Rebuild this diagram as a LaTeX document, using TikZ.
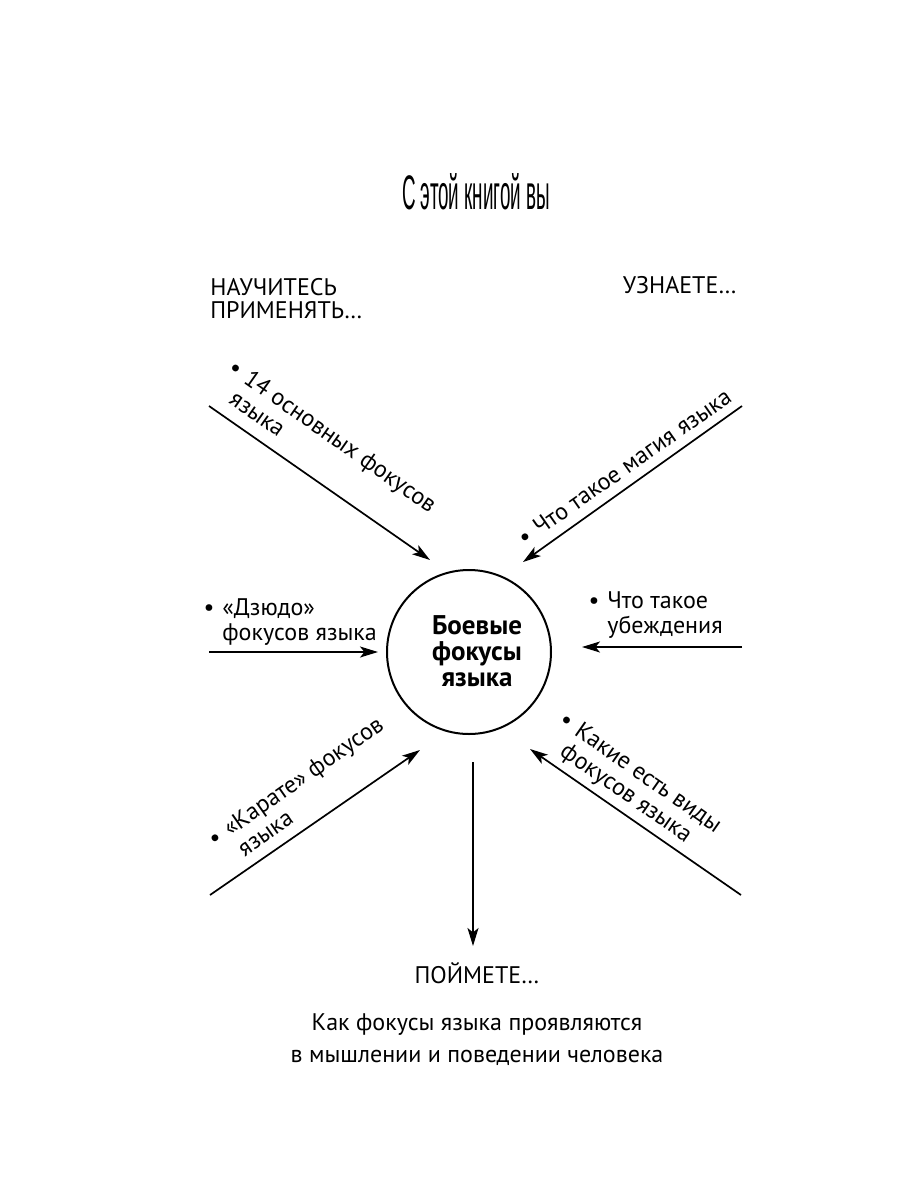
\documentclass[tikz,border=0pt]{standalone}
\usepackage{fontspec}
\setmainfont{PT Sans}
\newfontfamily\titlefont{Liberation Sans}
\usetikzlibrary{arrows.meta}
\begin{document}
\begin{tikzpicture}[x=0.5pt,y=-0.5pt,
  arr/.style={line width=0.85pt,-{Stealth[length=9pt,width=5.5pt,inset=2.2pt]}},
  lbl/.style={font=\fontsize{12}{12.5}\selectfont, inner sep=0pt, anchor=base west},
  ctr/.style={font=\fontsize{12}{12.5}\selectfont, inner sep=0pt, anchor=base},
  core/.style={ctr, font=\fontsize{13.5}{14}\selectfont\bfseries},
]
\useasboundingbox (0,0) rectangle (900,1200);
\newcommand{\bl}{\llap{\textbullet\hspace{4pt}}}

% title
\node[inner sep=0pt, anchor=base] (title) at (476,209) {\resizebox{74pt}{18pt}{\titlefont С этой книгой вы}};

% headers
\node[lbl] (learn1) at (210,295) {НАУЧИТЕСЬ};
\node[lbl] (learn2) at (210,318) {ПРИМЕНЯТЬ…};
\node[lbl, anchor=base east] (know) at (737,293) {УЗНАЕТЕ…};

% centre
\node[draw, circle, line width=1pt, minimum size=82pt, inner sep=0pt] (c) at (469,652) {};
\node[core] (c1) at (477,634) {Боевые};
\node[core] (c2) at (477,660) {фокусы};
\node[core] (c3) at (477,686) {языка};

% left / right
\node[lbl] (judo1) at (222,615) {\bl«Дзюдо»};
\node[lbl] (judo2) at (222,640) {фокусов языка};
\node[lbl] (bel1) at (607,608) {\bl Что такое};
\node[lbl] (bel2) at (607,633) {убеждения};

% rotated labels
\begin{scope}[shift={(242,382)}, rotate=-35, transform shape]
  \node[lbl] (tl1) at (0,0) {\bl 14 основных фокусов};
  \node[lbl] (tl2) at (0,25) {языка};
\end{scope}
\begin{scope}[shift={(540,536)}, rotate=35, transform shape]
  \node[lbl] (tr1) at (0,0) {\bl Что такое магия языка};
\end{scope}
\begin{scope}[shift={(230,837)}, rotate=35, transform shape]
  \node[lbl] (bl1) at (0,0) {\bl«Карате» фокусов};
  \node[lbl] (bl2) at (0,25) {языка};
\end{scope}
\begin{scope}[shift={(573,734)}, rotate=-35, transform shape]
  \node[lbl] (br1) at (0,0) {\bl Какие есть виды};
  \node[lbl] (br2) at (0,25) {фокусов языка};
\end{scope}

% bottom
\node[ctr] (under) at (477,983) {ПОЙМЕТЕ…};
\node[ctr] (res1) at (477,1030) {Как фокусы языка проявляются};
\node[ctr] (res2) at (477,1062) {в мышлении и поведении человека};

% arrow ends
\coordinate (a1s) at (209,406); \coordinate (a1e) at (430,560);
\coordinate (a2s) at (742,406); \coordinate (a2e) at (523,562);
\coordinate (a3s) at (209,652); \coordinate (a3e) at (378,652);
\coordinate (a4s) at (742,647); \coordinate (a4e) at (582,647);
\coordinate (a5s) at (210,895); \coordinate (a5e) at (420,750);
\coordinate (a6s) at (741,895); \coordinate (a6e) at (530,749);
\coordinate (a7s) at (473,762); \coordinate (a7e) at (473,946);

\draw[arr] (a1s) -- (a1e);
\draw[arr] (a2s) -- (a2e);
\draw[arr] (a3s) -- (a3e);
\draw[arr] (a4s) -- (a4e);
\draw[arr] (a5s) -- (a5e);
\draw[arr] (a6s) -- (a6e);
\draw[arr] (a7s) -- (a7e);
\end{tikzpicture}
\end{document}
